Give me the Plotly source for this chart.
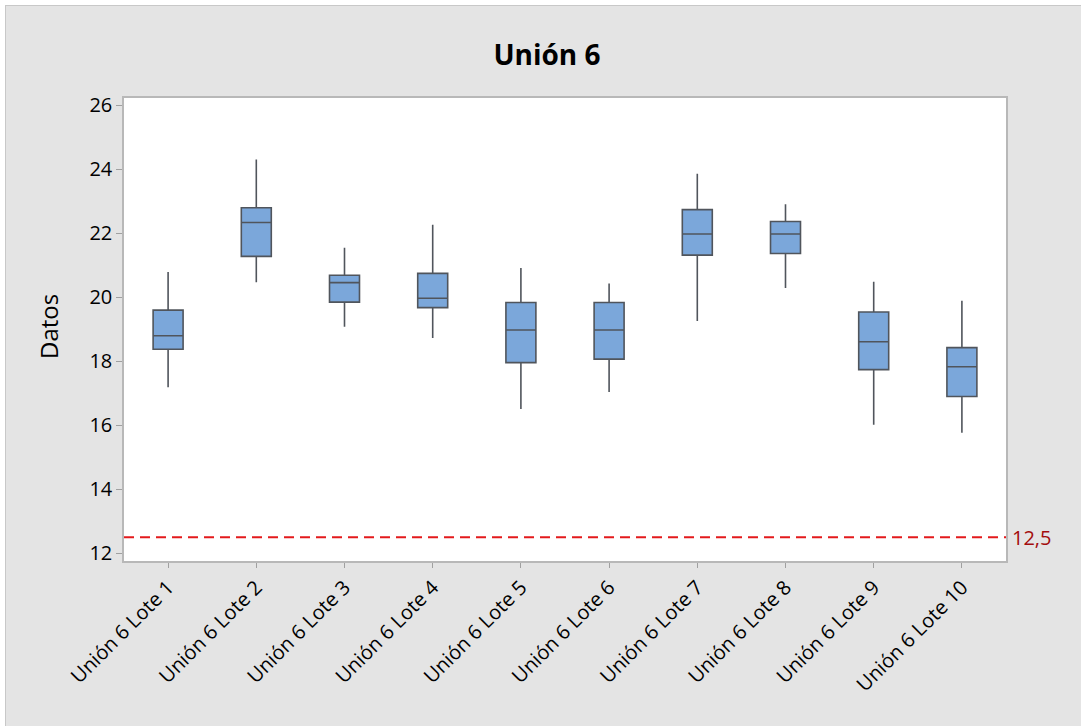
import plotly.graph_objects as go

# Batches and their box-plot summary statistics
categories = [f"Unión 6 Lote {i}" for i in range(1, 11)]
lower_whisker = [17.19, 20.47, 19.08, 18.73, 16.51, 17.04, 19.26, 20.29, 16.02, 15.77]
q1_values = [18.38, 21.28, 19.85, 19.68, 17.96, 18.07, 21.32, 21.37, 17.74, 16.90]
median_values = [18.80, 22.34, 20.46, 19.97, 18.98, 18.98, 21.98, 21.98, 18.61, 17.83]
q3_values = [19.60, 22.80, 20.69, 20.75, 19.84, 19.84, 22.74, 22.37, 19.54, 18.43]
upper_whisker = [20.79, 24.31, 21.55, 22.27, 20.92, 20.43, 23.86, 22.91, 20.49, 19.89]

reference_value = 12.5
reference_label = "12,5"
y_ticks = [12, 14, 16, 18, 20, 22, 24, 26]

W, H = 1081, 726
L, R, T, B = 124, 75, 98, 165
plot_w = W - L - R
plot_h = H - T - B


def px_x(x):
    return (x - L) / plot_w


def px_y(y):
    return (H - B - y) / plot_h


font_family = "Open Sans, Noto Sans, DejaVu Sans, sans-serif"

fig = go.Figure()
fig.add_trace(go.Box(
    x=categories,
    q1=q1_values,
    median=median_values,
    q3=q3_values,
    lowerfence=lower_whisker,
    upperfence=upper_whisker,
    boxpoints=False,
    width=0.34,
    whiskerwidth=0,
    fillcolor="#7ba7da",
    line=dict(color="#50555c", width=1.6),
    hoverinfo="skip",
    showlegend=False,
))

# Reference line at 12.5
fig.add_trace(go.Scatter(
    x=[-0.5, 9.5],
    y=[reference_value, reference_value],
    mode="lines",
    line=dict(color="#e31a1c", width=2, dash="10px,6px"),
    xaxis="x2",
    hoverinfo="skip",
    showlegend=False,
))

fig.update_layout(
    width=W,
    height=H,
    margin=dict(l=L, r=R, t=T, b=B),
    paper_bgcolor="#e4e4e4",
    plot_bgcolor="white",
    font=dict(family=font_family, color="black"),
    title=dict(
        text="<b>Unión 6</b>",
        font=dict(size=28, family=font_family, color="black"),
        x=547 / W,
        xanchor="center",
        xref="container",
        y=1 - 55 / H,
        yref="container",
        yanchor="middle",
    ),
    xaxis=dict(
        type="category",
        range=[-0.5, 9.5],
        tickangle=-45,
        tickfont=dict(size=20, color="black"),
        showline=True,
        linecolor="#b8b8b8",
        linewidth=1.5,
        mirror=True,
        ticks="outside",
        ticklen=5,
        tickcolor="#a0a0a0",
        showgrid=False,
        zeroline=False,
        fixedrange=True,
    ),
    xaxis2=dict(
        overlaying="x",
        range=[-0.5, 9.5],
        visible=False,
        fixedrange=True,
    ),
    yaxis=dict(
        range=[11.76, 26.23],
        tickvals=y_ticks,
        ticktext=[str(v) for v in y_ticks],
        tickfont=dict(size=20, color="black"),
        showline=True,
        linecolor="#b8b8b8",
        linewidth=1.5,
        mirror=True,
        ticks="outside",
        ticklen=6,
        tickcolor="#a0a0a0",
        showgrid=False,
        zeroline=False,
        fixedrange=True,
    ),
    annotations=[
        dict(
            text="Datos",
            textangle=-90,
            xref="paper", yref="paper",
            x=px_x(48), y=px_y(327),
            xanchor="center", yanchor="middle",
            showarrow=False,
            font=dict(size=24, color="black"),
        ),
        dict(
            text=reference_label,
            xref="paper", yref="y",
            x=1, y=reference_value,
            xanchor="left", yanchor="middle",
            xshift=4,
            showarrow=False,
            font=dict(size=20, color="#a30d0d"),
        ),
    ],
    shapes=[
        # light frame along the top and left edges
        dict(type="rect", xref="paper", yref="paper",
             x0=px_x(0), x1=px_x(W), y0=px_y(5), y1=px_y(0),
             fillcolor="white", line=dict(width=0), layer="above"),
        dict(type="rect", xref="paper", yref="paper",
             x0=px_x(0), x1=px_x(5), y0=px_y(H), y1=px_y(0),
             fillcolor="white", line=dict(width=0), layer="above"),
        dict(type="line", xref="paper", yref="paper",
             x0=px_x(5), x1=px_x(W), y0=px_y(5.5), y1=px_y(5.5),
             line=dict(color="#c8c8c8", width=1), layer="above"),
        dict(type="line", xref="paper", yref="paper",
             x0=px_x(5.5), x1=px_x(5.5), y0=px_y(H), y1=px_y(5),
             line=dict(color="#c8c8c8", width=1), layer="above"),
    ],
)

fig.write_html("out.html")
